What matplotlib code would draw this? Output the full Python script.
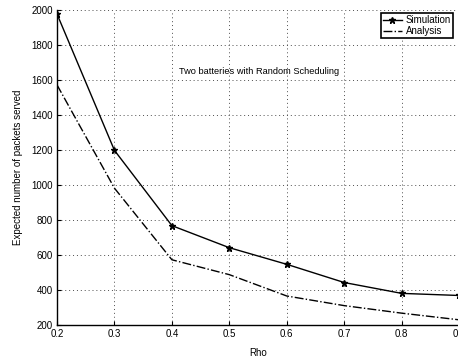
import numpy as np
import matplotlib.pyplot as plt

plt.rcParams['font.family'] = ['Liberation Sans', 'DejaVu Sans']

rho = [0.2, 0.3, 0.4, 0.5, 0.6, 0.7, 0.8, 0.9]
simulation = [1977, 1198, 768, 642, 547, 443, 381, 369]
analysis = [1572, 982, 573, 488, 366, 311, 268, 230]
xticks = [0.2, 0.3, 0.4, 0.5, 0.6, 0.7, 0.8, 0.9]
yticks = [200, 400, 600, 800, 1000, 1200, 1400, 1600, 1800, 2000]

fig = plt.figure(figsize=(4.58, 3.58), dpi=100)
ax = fig.add_axes([0.1245, 0.092, 0.878, 0.880])

ax.plot(rho, simulation, 'k-', marker='*', markersize=5, linewidth=1.0, label='Simulation')
ax.plot(rho, analysis, 'k-.', linewidth=1.0, label='Analysis')

ax.set_xlim(0.2, 0.9)
ax.set_ylim(200, 2000)
ax.set_xticks(xticks)
ax.set_yticks(yticks)
ax.set_xticklabels([str(t) for t in xticks])
ax.tick_params(direction='in', labelsize=7, length=3, width=0.8, pad=3)

ax.grid(True, linestyle=(0, (1, 3)), color='0.3', linewidth=0.7)
ax.spines['top'].set_visible(False)
ax.spines['right'].set_visible(False)
ax.spines['left'].set_linewidth(1.0)
ax.spines['bottom'].set_linewidth(1.0)

ax.set_xlabel('Rho', fontsize=7, labelpad=6)
ax.set_ylabel('Expected number of packets served', fontsize=7, labelpad=6)

ax.text(0.551, 1646, 'Two batteries with Random Scheduling', fontsize=6.7,
        ha='center', va='center')

leg = ax.legend(loc='upper right', fontsize=7, frameon=True, fancybox=False,
                borderpad=0.2, labelspacing=0.1, handlelength=2.0,
                handletextpad=0.4, borderaxespad=0.0,
                bbox_to_anchor=(0.985, 0.99))
leg.get_frame().set_edgecolor('black')
leg.get_frame().set_linewidth(1.2)
leg.get_frame().set_alpha(1)

fig.savefig('out.png', dpi=100)
